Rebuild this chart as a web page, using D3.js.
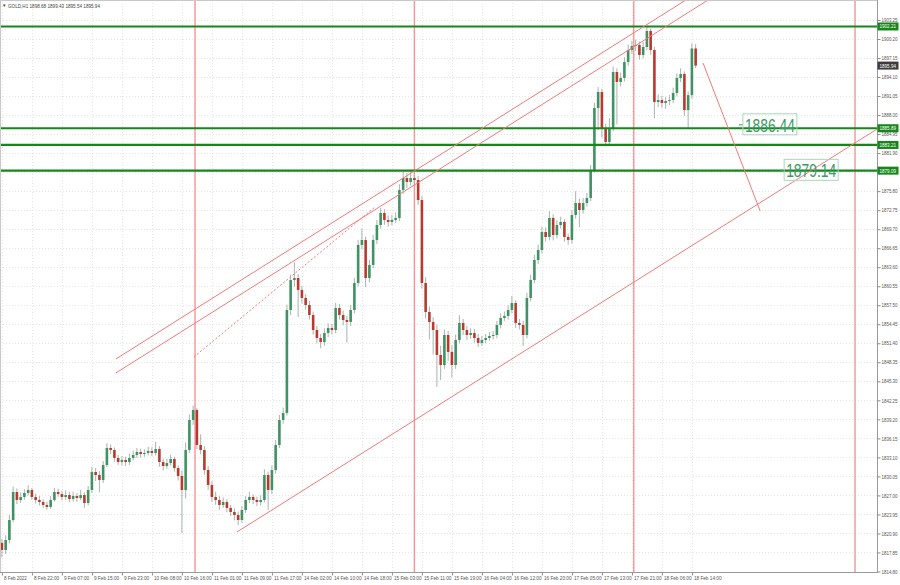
<!DOCTYPE html>
<html><head><meta charset="utf-8">
<script src="https://cdn.jsdelivr.net/npm/d3@7"></script>
<style>body{margin:0;background:#fff;overflow:hidden} svg{display:block}</style>
</head><body>
<svg id="chart" width="900" height="585"></svg>
<script>
const symbolName = "GOLD,H1";
const opens = [
1819.40,1818.25,1819.85,1823.06,1827.55,1826.27,1826.75,1827.39,1827.87,1826.75,
1826.27,1825.95,1825.47,1825.15,1826.27,1827.55,1827.23,1826.75,1827.07,1826.43,
1826.91,1826.59,1827.07,1825.79,1827.87,1830.76,1830.28,1829.48,1831.88,1834.61,
1834.29,1833.01,1832.36,1832.69,1832.36,1833.01,1833.49,1833.97,1833.65,1833.81,
1834.13,1833.81,1834.45,1832.36,1831.72,1832.20,1832.85,1831.40,1830.12,1827.87,
1834.29,1839.10,1840.70,1835.09,1834.29,1831.08,1828.68,1826.75,1826.27,1825.47,
1825.95,1824.99,1824.35,1823.86,1823.06,1824.67,1826.27,1826.75,1826.27,1825.95,
1826.27,1830.28,1827.87,1831.08,1835.09,1839.10,1840.22,1856.74,1861.55,1861.87,
1859.95,1858.67,1857.54,1855.94,1853.53,1852.25,1851.61,1853.05,1853.86,1853.53,
1857.06,1855.94,1855.14,1854.82,1856.74,1861.07,1867.17,1867.97,1861.87,1863.96,
1867.97,1870.37,1872.30,1871.18,1870.86,1871.18,1871.50,1875.99,1877.91,1877.27,
1877.91,1877.59,1874.38,1861.07,1856.42,1854.82,1853.53,1849.53,1847.92,1852.73,
1850.01,1847.92,1851.93,1854.66,1853.53,1852.73,1853.05,1852.25,1851.45,1851.93,
1852.25,1852.57,1852.73,1854.34,1855.46,1855.78,1856.74,1857.86,1854.66,1854.34,
1852.73,1858.67,1861.55,1864.76,1866.36,1869.25,1868.45,1871.50,1868.77,1870.37,
1870.86,1868.45,1867.97,1871.98,1873.90,1872.78,1873.90,1874.70,1879.20,1889.14,
1891.71,1885.93,1883.69,1885.93,1894.91,1893.31,1893.95,1896.52,1898.44,1899.08,
1899.24,1897.64,1898.92,1901.50,1898.44,1890.10,1890.42,1889.94,1890.26,1890.42,
1891.54,1893.95,1894.59,1888.80,1891.20,1898.68];
const closes = [
1818.25,1819.85,1823.06,1827.55,1826.27,1826.75,1827.39,1827.87,1826.75,1826.27,
1825.95,1825.47,1825.15,1826.27,1827.55,1827.23,1826.75,1827.07,1826.43,1826.91,
1826.59,1827.07,1825.79,1827.87,1830.76,1830.28,1829.48,1831.88,1834.61,1834.29,
1833.01,1832.36,1832.69,1832.36,1833.01,1833.49,1833.97,1833.65,1833.81,1834.13,
1833.81,1834.45,1832.36,1831.72,1832.20,1832.85,1831.40,1830.12,1827.87,1834.29,
1839.10,1840.70,1835.09,1834.29,1831.08,1828.68,1826.75,1826.27,1825.47,1825.95,
1824.99,1824.35,1823.86,1823.06,1824.67,1826.27,1826.75,1826.27,1825.95,1826.27,
1830.28,1827.87,1831.08,1835.09,1839.10,1840.22,1856.74,1861.55,1861.87,1859.95,
1858.67,1857.54,1855.94,1853.53,1852.25,1851.61,1853.05,1853.86,1853.53,1857.06,
1855.94,1855.14,1854.82,1856.74,1861.07,1867.17,1867.97,1861.87,1863.96,1867.97,
1870.37,1872.30,1871.18,1870.86,1871.18,1871.50,1875.99,1877.91,1877.27,1877.91,
1877.59,1874.38,1861.07,1856.42,1854.82,1853.53,1849.53,1847.92,1852.73,1850.01,
1847.92,1851.93,1854.66,1853.53,1852.73,1853.05,1852.25,1851.45,1851.93,1852.25,
1852.57,1852.73,1854.34,1855.46,1855.78,1856.74,1857.86,1854.66,1854.34,1852.73,
1858.67,1861.55,1864.76,1866.36,1869.25,1868.45,1871.50,1868.77,1870.37,1870.86,
1868.45,1867.97,1871.98,1873.90,1872.78,1873.90,1874.70,1879.20,1889.14,1891.71,
1885.93,1883.69,1885.93,1894.91,1893.31,1893.95,1896.52,1898.44,1899.08,1899.24,
1897.64,1898.92,1901.50,1898.44,1890.10,1890.42,1889.94,1890.26,1890.42,1891.54,
1893.95,1894.59,1888.80,1891.20,1898.68,1895.94];
const highs = [
1820.00,1820.60,1823.90,1828.40,1828.10,1827.50,1828.00,1828.60,1828.20,1827.30,
1826.90,1826.40,1826.00,1826.90,1828.20,1828.10,1827.70,1827.80,1827.60,1827.60,
1827.40,1827.90,1827.50,1828.50,1831.60,1831.40,1830.90,1832.50,1835.40,1835.20,
1834.70,1833.50,1833.30,1833.20,1833.70,1834.20,1834.60,1834.50,1834.40,1834.80,
1834.70,1835.60,1834.90,1832.90,1832.90,1833.50,1833.20,1831.80,1831.00,1835.50,
1840.00,1841.40,1841.00,1836.80,1834.90,1831.70,1829.30,1827.60,1826.90,1826.70,
1826.40,1825.50,1824.90,1824.40,1825.30,1826.90,1827.60,1827.20,1826.80,1827.00,
1831.20,1830.80,1831.80,1835.90,1839.90,1841.10,1857.60,1862.40,1864.40,1862.50,
1860.60,1859.30,1858.20,1856.50,1854.20,1852.90,1853.80,1854.60,1854.50,1857.90,
1857.70,1856.60,1855.80,1857.50,1861.90,1868.00,1869.80,1868.50,1864.80,1868.80,
1871.20,1873.10,1872.90,1871.90,1872.00,1872.40,1876.90,1878.90,1878.70,1879.00,
1878.90,1878.20,1875.00,1862.00,1857.30,1855.60,1854.40,1851.00,1853.60,1853.40,
1851.10,1852.80,1855.90,1855.30,1854.20,1853.80,1853.70,1852.90,1852.60,1852.90,
1853.20,1853.40,1855.00,1856.20,1856.50,1857.50,1859.00,1858.30,1855.30,1855.00,
1859.50,1862.40,1865.60,1867.20,1870.10,1870.00,1872.60,1872.10,1871.20,1871.70,
1871.30,1869.00,1872.80,1875.80,1874.60,1874.70,1875.50,1880.00,1890.00,1892.50,
1892.20,1886.60,1887.50,1895.80,1895.50,1894.80,1897.30,1899.30,1899.90,1900.10,
1899.80,1899.70,1902.21,1901.90,1898.90,1891.30,1891.10,1890.90,1891.20,1892.40,
1894.70,1895.50,1895.00,1891.80,1899.50,1899.43];
const lows = [
1817.10,1817.60,1819.30,1822.70,1825.60,1825.80,1826.30,1827.00,1826.30,1825.70,
1825.40,1825.00,1824.70,1824.80,1826.00,1826.80,1826.20,1826.30,1825.90,1826.00,
1826.00,1826.20,1825.00,1825.40,1827.40,1829.30,1827.50,1829.00,1831.50,1833.60,
1832.40,1831.90,1831.80,1831.70,1831.90,1832.60,1833.00,1833.10,1833.20,1833.40,
1833.30,1833.40,1831.60,1831.00,1831.30,1831.80,1830.80,1829.40,1821.00,1826.50,
1833.80,1838.30,1834.40,1833.60,1830.30,1827.90,1826.00,1825.50,1824.70,1825.00,
1824.30,1823.70,1823.00,1822.20,1822.60,1824.20,1825.80,1825.60,1825.30,1825.40,
1825.90,1824.70,1827.20,1830.50,1834.60,1838.50,1839.80,1855.90,1860.50,1855.60,
1857.80,1856.80,1855.20,1852.80,1851.40,1850.60,1851.00,1852.40,1852.80,1853.00,
1855.20,1854.30,1851.50,1854.20,1856.20,1860.50,1866.50,1860.40,1861.20,1863.40,
1867.30,1869.80,1870.40,1870.10,1870.30,1870.70,1871.00,1875.40,1876.30,1876.70,
1876.90,1873.60,1860.20,1855.40,1852.00,1849.60,1844.40,1845.50,1847.30,1848.60,
1845.90,1847.30,1851.40,1852.70,1851.90,1852.10,1851.50,1850.80,1851.00,1851.40,
1851.80,1852.00,1852.20,1853.80,1855.00,1855.20,1856.20,1853.90,1853.60,1851.00,
1852.20,1858.10,1861.00,1864.10,1865.80,1867.70,1867.90,1867.90,1868.20,1869.80,
1867.70,1867.20,1867.40,1871.40,1870.00,1872.20,1873.30,1874.20,1878.80,1885.60,
1884.40,1883.00,1883.30,1885.40,1886.50,1892.60,1893.40,1895.90,1897.80,1898.30,
1896.90,1897.10,1898.40,1897.70,1887.50,1889.30,1889.20,1889.00,1889.60,1889.90,
1891.00,1893.30,1887.90,1885.90,1890.60,1895.54];

const timeLabels = ["8 Feb 2022","8 Feb 22:00","9 Feb 07:00","9 Feb 15:00","9 Feb 23:00","10 Feb 08:00",
"10 Feb 16:00","11 Feb 01:00","11 Feb 09:00","11 Feb 17:00","14 Feb 02:00","14 Feb 10:00","14 Feb 18:00",
"15 Feb 03:00","15 Feb 11:00","15 Feb 19:00","16 Feb 04:00","16 Feb 12:00","16 Feb 20:00","17 Feb 05:00",
"17 Feb 13:00","17 Feb 21:00","18 Feb 06:00","18 Feb 14:00"];
const timeLabelBars = [0,8,16,24,32,40,48,56,64,72,80,88,96,104,112,120,128,136,144,152,160,168,176,184];

const priceTicks = [1814.80,1817.85,1820.90,1823.95,1827.00,1830.05,1833.10,1836.15,1839.20,1842.25,
1845.30,1848.35,1851.40,1854.45,1857.50,1860.55,1863.60,1866.65,1869.70,1872.75,1875.80,1878.85,
1881.90,1884.95,1888.00,1891.05,1894.10,1897.15,1900.20,1903.25];

const levelPrices = [1902.21, 1885.89, 1883.21, 1879.09];
const verticalLineBars = [51.5, 110, 168.5, 227.5];
// trend lines: [barStart, priceStart, barEnd, priceEnd]
const channelLines = [
  [30.4, 1848.88, 182.4, 1906.46],
  [30.4, 1846.64, 188.3, 1906.46],
  [62.7, 1821.14, 233.4, 1885.77],
  [186.96, 1896.36, 202.2, 1872.62]
];
const dottedLine = [51.2, 1849.20, 99.5, 1873.26];
const noteBars = [197.6, 208.6];
const notePrices = [1886.44, 1879.14];

const svg = d3.select("#chart");
const W = 900, H = 585;
const plotR = 877.5, plotB = 572.5;

const x = d3.scaleLinear().domain([0, 185]).range([1.9, 1.9 + 185 * 3.75]);
const y = d3.scaleLinear().domain([1814.80, 1903.25]).range([571.5, 20]);

svg.append("rect").attr("width", W).attr("height", H).attr("fill", "#fff");

svg.append("defs").append("clipPath").attr("id", "plotClip")
  .append("rect").attr("x", 0).attr("y", 0).attr("width", plotR).attr("height", plotB);

const plot = svg.append("g").attr("clip-path", "url(#plotClip)");

// grid
plot.append("g").selectAll("line").data(timeLabelBars).join("line")
  .attr("x1", d => Math.round(x(d)) + 0.5).attr("x2", d => Math.round(x(d)) + 0.5)
  .attr("y1", 0).attr("y2", plotB)
  .attr("stroke", "#e6e6e6").attr("stroke-dasharray", "1,2");
plot.append("g").selectAll("line").data(priceTicks).join("line")
  .attr("x1", 0).attr("x2", plotR)
  .attr("y1", d => Math.round(y(d)) + 0.5).attr("y2", d => Math.round(y(d)) + 0.5)
  .attr("stroke", "#e6e6e6").attr("stroke-dasharray", "1,2");

// vertical red lines
plot.append("g").selectAll("line").data(verticalLineBars).join("line")
  .attr("x1", d => x(d)).attr("x2", d => x(d))
  .attr("y1", 0).attr("y2", plotB)
  .attr("stroke", "#f59393").attr("stroke-width", 1.4);

// candles
const idx = d3.range(closes.length);
const cg = plot.append("g");
cg.selectAll("line").data(idx).join("line")
  .attr("x1", i => x(i)).attr("x2", i => x(i))
  .attr("y1", i => y(highs[i])).attr("y2", i => y(lows[i]))
  .attr("stroke", "#a9b3ad").attr("stroke-width", 1);
cg.selectAll("rect").data(idx).join("rect")
  .attr("x", i => x(i) - 1.3).attr("width", 2.6)
  .attr("y", i => y(Math.max(opens[i], closes[i])))
  .attr("height", i => Math.max(1, Math.abs(y(opens[i]) - y(closes[i]))))
  .attr("fill", i => closes[i] >= opens[i] ? "#3e9263" : "#b83a2e");

// green level lines
plot.append("g").selectAll("line").data(levelPrices).join("line")
  .attr("x1", 0).attr("x2", plotR)
  .attr("y1", d => y(d)).attr("y2", d => y(d))
  .attr("stroke", "#16861a").attr("stroke-width", 2.2);

// channel lines
plot.append("g").selectAll("line").data(channelLines).join("line")
  .attr("x1", d => x(d[0])).attr("y1", d => y(d[1]))
  .attr("x2", d => x(d[2])).attr("y2", d => y(d[3]))
  .attr("stroke", "#f27a7a").attr("stroke-width", 1);
plot.append("line")
  .attr("x1", x(dottedLine[0])).attr("y1", y(dottedLine[1]))
  .attr("x2", x(dottedLine[2])).attr("y2", y(dottedLine[3]))
  .attr("stroke", "#f27a7a").attr("stroke-width", 1).attr("stroke-dasharray", "2,2");

// price notes
noteBars.forEach((b, k) => {
  const p = notePrices[k];
  const gx = x(b), gy = y(p);
  const g = plot.append("g");
  g.append("rect").attr("x", gx).attr("y", gy - 11).attr("width", 54).attr("height", 21)
    .attr("fill", "none").attr("stroke", "#a9d8b8").attr("stroke-width", 1);
  g.append("line").attr("x1", gx - 4).attr("x2", gx - 0.5).attr("y1", gy).attr("y2", gy)
    .attr("stroke", "#3c9a68").attr("stroke-width", 1);
  g.append("text").attr("x", gx + 2).attr("y", gy + 7)
    .attr("font-family", "'Liberation Sans Narrow','Liberation Sans',Arial,sans-serif")
    .attr("font-size", 19).attr("fill", "#3a9a66")
    .attr("textLength", 50).attr("lengthAdjust", "spacingAndGlyphs")
    .text(p.toFixed(2));
});

// frame
svg.append("rect").attr("x", 0.5).attr("y", 0.5).attr("width", plotR - 0.5).attr("height", plotB - 0.5)
  .attr("fill", "none").attr("stroke", "#c8c8c8");
svg.append("line").attr("x1", plotR).attr("x2", plotR).attr("y1", 0).attr("y2", plotB)
  .attr("stroke", "#9a9a9a");
svg.append("line").attr("x1", 0).attr("x2", plotR).attr("y1", plotB).attr("y2", plotB)
  .attr("stroke", "#9a9a9a");

const fontAx = "'Liberation Sans',Arial,sans-serif";
const last = closes[closes.length - 1];
const badgePrices = levelPrices.concat([last]);

// right axis (tick labels covered by a price badge are not shown, as in the terminal)
const visibleTicks = priceTicks.filter(t => badgePrices.every(b => Math.abs(y(t) - y(b)) > 4));
const yAxis = d3.axisRight(y).tickValues(visibleTicks).tickFormat(d3.format(".2f")).tickSize(3).tickPadding(1);
const ya = svg.append("g").attr("transform", `translate(${plotR},0)`).call(yAxis);
ya.select(".domain").remove();
ya.selectAll("line").attr("stroke", "#8a8a8a");
ya.selectAll("text").attr("font-size", 5.2).attr("font-family", fontAx).attr("fill", "#555")
  .attr("textLength", 16).attr("lengthAdjust", "spacingAndGlyphs");

// bottom axis
const xAxis = d3.axisBottom(x).tickValues(timeLabelBars)
  .tickFormat((d, k) => timeLabels[k]).tickSize(3);
const xa = svg.append("g").attr("transform", `translate(0,${plotB})`).call(xAxis);
xa.select(".domain").remove();
xa.selectAll("line").attr("stroke", "#8a8a8a");
xa.selectAll("text").attr("font-size", 5.2).attr("font-family", fontAx).attr("fill", "#555")
  .attr("text-anchor", "start").attr("x", 1.5).attr("dy", "0.2em")
  .attr("textLength", (d, k) => timeLabels[k].length * 2.3).attr("lengthAdjust", "spacingAndGlyphs");

// axis price labels
const labelG = svg.append("g");
levelPrices.forEach(p => {
  labelG.append("rect").attr("x", plotR).attr("y", y(p) - 4).attr("width", 21).attr("height", 8)
    .attr("fill", "#17871b");
  labelG.append("text").attr("x", plotR + 2).attr("y", y(p) + 2)
    .attr("font-size", 5.2).attr("font-family", fontAx).attr("fill", "#fff")
    .attr("textLength", 16.5).attr("lengthAdjust", "spacingAndGlyphs").text(p.toFixed(2));
});
labelG.append("rect").attr("x", plotR).attr("y", y(last) - 4).attr("width", 21).attr("height", 8)
  .attr("fill", "#3d3d3d");
labelG.append("text").attr("x", plotR + 2).attr("y", y(last) + 2)
  .attr("font-size", 5.2).attr("font-family", fontAx).attr("fill", "#fff")
  .attr("textLength", 16.5).attr("lengthAdjust", "spacingAndGlyphs").text(last.toFixed(2));

// title
const n = closes.length - 1;
svg.append("text").attr("x", 2).attr("y", 7).attr("font-size", 4.5).attr("fill", "#444").text("▼");
svg.append("text").attr("x", 8).attr("y", 7.5)
  .attr("font-size", 5.2).attr("font-family", fontAx).attr("fill", "#444")
  .attr("textLength", 92).attr("lengthAdjust", "spacingAndGlyphs")
  .text(`${symbolName}  ${opens[n].toFixed(2)} ${highs[n].toFixed(2)} ${lows[n].toFixed(2)} ${closes[n].toFixed(2)}`);
</script>
</body></html>
